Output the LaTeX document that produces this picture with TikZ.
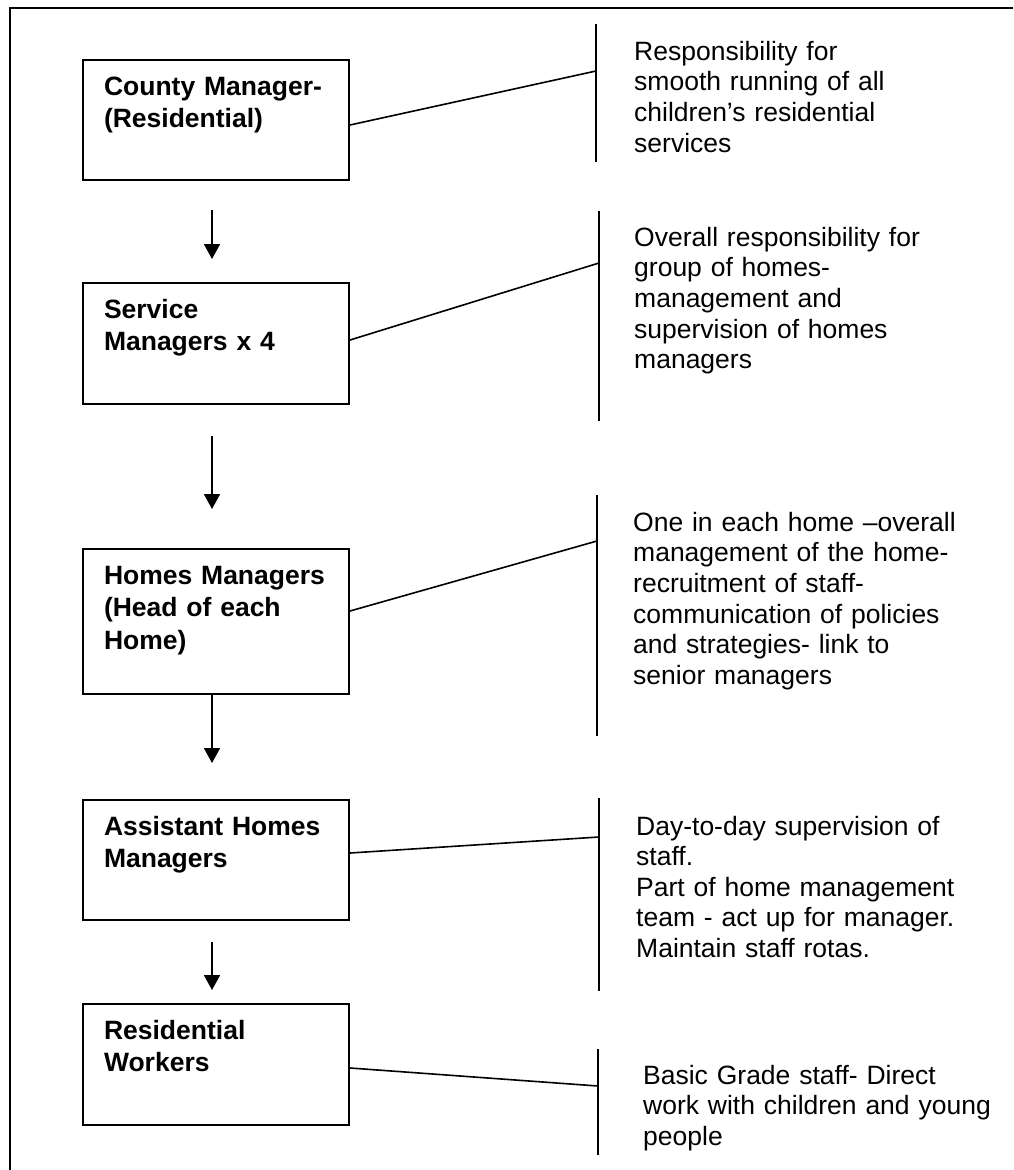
\documentclass[tikz,border=0pt]{standalone}
\usepackage{fontspec}
\setmainfont{Liberation Sans}
\usetikzlibrary{arrows.meta}
\begin{document}
\begin{tikzpicture}[x=1pt,y=-1pt,
  rolebox/.style={draw, line width=2pt, anchor=north west, inner xsep=21pt,
    inner ysep=0pt, text width=224pt, align=left, text height=35pt,
    font=\bfseries\fontsize{26.5}{32.8}\selectfont},
  duty/.style={anchor=base west, inner sep=0pt, text width=380pt, align=left,
    font=\fontsize{26.5}{30.7}\selectfont},
  bar/.style={line width=2pt},
  link/.style={line width=1.6pt},
  down/.style={line width=1.8pt, -{Triangle[width=16pt,length=15pt]}}
]
\useasboundingbox (0,0) rectangle (1013,1170);

% frame
\draw[line width=2.6pt] (1013,8) -- (10,8) -- (10,1170);

% role boxes
\node[rolebox, minimum width=266pt, minimum height=120pt, text depth=85pt] (b1) at (82,59)
  {County Manager-\\(Residential)};
\node[rolebox, minimum width=266pt, minimum height=121pt, text depth=86pt] (b2) at (82,282)
  {Service\\Managers x 4};
\node[rolebox, minimum width=266pt, minimum height=145pt, text depth=110pt] (b3) at (82,548)
  {Homes Managers\\(Head of each\\Home)};
\node[rolebox, minimum width=266pt, minimum height=120pt, text depth=85pt] (b4) at (82,799)
  {Assistant Homes\\Managers};
\node[rolebox, minimum width=266pt, minimum height=121pt, text depth=86pt] (b5) at (82,1003)
  {Residential\\Workers};

% arrows between levels
\coordinate (a1s) at (212,210); \coordinate (a1e) at (212,259);
\coordinate (a2s) at (212,436); \coordinate (a2e) at (212,509);
\coordinate (a3e) at (212,763);
\coordinate (a4s) at (212,942); \coordinate (a4e) at (212,990);
\draw[down] (a1s) -- (a1e);
\draw[down] (a2s) -- (a2e);
\draw[down] (b3.south -| a3e) -- (a3e);
\draw[down] (a4s) -- (a4e);

% vertical bars beside the duties
\coordinate (v1t) at (596,24);  \coordinate (v1b) at (596,162);
\coordinate (v2t) at (599,211); \coordinate (v2b) at (599,421);
\coordinate (v3t) at (597,495); \coordinate (v3b) at (597,736);
\coordinate (v4t) at (599,798); \coordinate (v4b) at (599,991);
\coordinate (v5t) at (598,1049); \coordinate (v5b) at (598,1155);
\foreach \v in {1,...,5} { \draw[bar] (v\v t) -- (v\v b); }

% joints on the bars
\coordinate (j1) at (596,71);
\coordinate (j2) at (599,263);
\coordinate (j3) at (597,541);
\coordinate (j4) at (599,837);
\coordinate (j5) at (598,1086);
\draw[link] ([yshift=-5pt]b1.east) -- (j1);
\draw[link] ([yshift=3.5pt]b2.east) -- (j2);
\draw[link] ([yshift=10.5pt]b3.east) -- (j3);
\draw[link] ([yshift=7pt]b4.east) -- (j4);
\draw[link] ([yshift=-3.5pt]b5.east) -- (j5);

% duties
\node[duty] (d1) at (634,60)
  {Responsibility for\\smooth running of all\\children’s residential\\services};
\node[duty] (d2) at (634,246)
  {Overall responsibility for\\group of homes-\\management and\\supervision of homes\\managers};
\node[duty] (d3) at (633,531)
  {One in each home –overall\\management of the home-\\recruitment of staff-\\communication of policies\\and strategies- link to\\senior managers};
\node[duty, font=\fontsize{26.5}{30.5}\selectfont] (d4) at (636,835)
  {Day-to-day supervision of\\staff.\\Part of home management\\team - act up for manager.\\Maintain staff rotas.};
\node[duty, font=\fontsize{26.5}{30.5}\selectfont] (d5) at (643,1084)
  {Basic Grade staff- Direct\\work with children and young\\people};
\end{tikzpicture}
\end{document}
